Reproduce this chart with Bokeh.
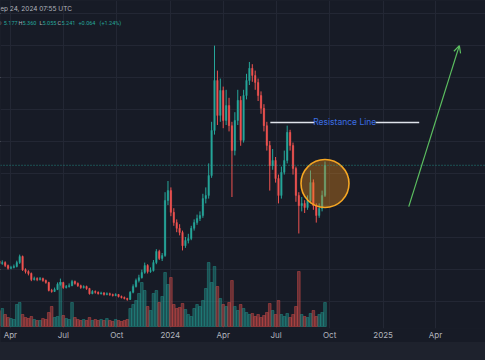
import pandas as pd
from bokeh.plotting import figure
from bokeh.models import (Range1d, FixedTicker, Span, Label, Arrow, OpenHead, Grid,
                          ColumnDataSource, GlobalInlineStyleSheet)
from bokeh.embed import file_html
from bokeh.resources import INLINE

# ---------------- data (5-day candles) ----------------
DATES = pd.date_range("2023-03-13", periods=113, freq="5D")

OPEN = [2.25, 2.17, 2.20, 2.11, 2.02, 2.05, 2.08, 2.20, 2.39, 1.98,
        1.92, 1.86, 1.67, 1.70, 1.67, 1.70, 1.64, 1.58, 1.33, 1.30,
        1.36, 1.52, 1.58, 1.42, 1.45, 1.48, 1.61, 1.55, 1.48, 1.42,
        1.45, 1.39, 1.23, 1.30, 1.27, 1.23, 1.25, 1.20, 1.23, 1.20,
        1.17, 1.20, 1.14, 1.11, 1.08, 1.05, 1.27, 1.45, 1.64, 1.73,
        1.89, 2.11, 1.92, 1.95, 2.20, 2.55, 2.33, 2.42, 4.14, 4.45,
        3.77, 3.45, 3.27, 3.14, 2.73, 2.89, 2.95, 3.27, 3.45, 3.58,
        3.67, 4.20, 4.30, 4.92, 6.33, 7.89, 6.80, 7.58, 6.64, 7.11,
        6.48, 5.70, 6.64, 7.27, 6.02, 7.42, 7.89, 8.27, 8.05, 7.83,
        7.42, 7.02, 6.48, 5.86, 5.23, 5.39, 4.83, 4.30, 5.02, 5.39,
        6.27, 5.86, 5.14, 4.30, 3.98, 4.05, 3.92, 4.14, 4.70, 3.98,
        3.67, 3.89, 4.30]

CLOSE = [2.17, 2.20, 2.11, 2.02, 2.05, 2.08, 2.20, 2.39, 1.98, 1.92,
         1.86, 1.67, 1.70, 1.67, 1.70, 1.64, 1.58, 1.33, 1.30, 1.36,
         1.52, 1.58, 1.42, 1.45, 1.48, 1.61, 1.55, 1.48, 1.42, 1.45,
         1.39, 1.23, 1.30, 1.27, 1.23, 1.25, 1.20, 1.23, 1.20, 1.17,
         1.20, 1.14, 1.11, 1.08, 1.05, 1.27, 1.45, 1.64, 1.73, 1.89,
         2.11, 1.92, 1.95, 2.20, 2.55, 2.33, 2.42, 4.14, 4.45, 3.77,
         3.45, 3.27, 3.14, 2.73, 2.89, 2.95, 3.27, 3.45, 3.58, 3.67,
         4.20, 4.30, 4.92, 6.33, 7.89, 6.80, 7.58, 6.64, 7.11, 6.48,
         5.70, 6.64, 7.27, 6.02, 7.42, 7.89, 8.27, 8.05, 7.83, 7.42,
         7.02, 6.48, 5.86, 5.23, 5.39, 4.83, 4.30, 5.02, 5.39, 6.27,
         5.86, 5.14, 4.30, 3.98, 4.05, 3.92, 4.14, 4.70, 3.98, 3.67,
         3.89, 4.30, 5.241]

HIGH = [2.30, 2.27, 2.24, 2.14, 2.10, 2.14, 2.26, 2.45, 2.42, 2.02,
        1.96, 1.89, 1.76, 1.74, 1.75, 1.73, 1.67, 1.60, 1.38, 1.42,
        1.58, 1.70, 1.60, 1.50, 1.55, 1.66, 1.64, 1.58, 1.51, 1.49,
        1.48, 1.41, 1.34, 1.33, 1.30, 1.29, 1.28, 1.27, 1.26, 1.23,
        1.24, 1.22, 1.17, 1.14, 1.10, 1.31, 1.52, 1.70, 1.82, 1.98,
        2.20, 2.15, 2.05, 2.28, 2.62, 2.60, 2.50, 4.40, 4.75, 4.55,
        3.90, 3.55, 3.40, 3.20, 3.00, 3.10, 3.35, 3.55, 3.70, 3.80,
        4.35, 4.55, 5.30, 6.60, 8.98, 8.20, 7.95, 7.70, 7.60, 7.35,
        6.60, 6.90, 7.60, 7.40, 7.60, 8.10, 8.47, 8.40, 8.20, 7.95,
        7.55, 7.15, 6.60, 6.00, 5.75, 5.50, 4.95, 5.20, 5.70, 6.48,
        6.35, 5.95, 5.20, 4.40, 4.25, 4.15, 4.30, 5.08, 4.80, 4.05,
        4.05, 4.45, 5.36]

LOW = [2.12, 2.13, 2.06, 1.98, 1.99, 2.02, 2.05, 2.16, 1.94, 1.86,
       1.80, 1.62, 1.64, 1.62, 1.64, 1.60, 1.54, 1.30, 1.26, 1.28,
       1.34, 1.48, 1.38, 1.39, 1.42, 1.46, 1.51, 1.44, 1.38, 1.39,
       1.35, 1.20, 1.21, 1.23, 1.20, 1.20, 1.17, 1.18, 1.16, 1.14,
       1.15, 1.11, 1.08, 1.05, 1.01, 1.03, 1.24, 1.42, 1.58, 1.70,
       1.85, 1.86, 1.88, 1.92, 2.15, 2.28, 2.25, 2.38, 4.00, 3.65,
       3.35, 3.15, 3.05, 2.58, 2.66, 2.80, 2.90, 3.20, 3.38, 3.50,
       3.60, 4.05, 4.20, 4.85, 6.20, 6.50, 6.60, 6.40, 6.50, 6.30,
       4.25, 5.55, 6.50, 5.85, 5.95, 7.30, 7.75, 7.85, 7.60, 7.25,
       6.85, 6.30, 5.70, 4.45, 5.10, 4.70, 4.05, 4.20, 4.95, 5.30,
       5.70, 4.95, 4.10, 3.11, 3.80, 3.75, 3.85, 4.05, 3.85, 3.45,
       3.60, 3.80, 4.25]

VOLUME_M = [16, 18, 12, 9, 8, 7, 22, 24, 12, 9,
            8, 10, 7, 6, 6, 8, 7, 14, 20, 9,
            10, 44, 11, 8, 7, 24, 9, 7, 6, 7,
            6, 9, 6, 7, 6, 7, 6, 8, 6, 5,
            7, 6, 5, 6, 7, 18, 22, 26, 33, 44,
            36, 20, 16, 33, 36, 24, 30, 54, 42, 49,
            22, 18, 19, 23, 17, 12, 10, 18, 22, 20,
            26, 38, 64, 44, 60, 40, 28, 22, 20, 24,
            46, 20, 16, 22, 18, 14, 12, 13, 10, 12,
            9, 11, 14, 23, 16, 12, 26, 12, 10, 13,
            9, 12, 20, 55, 12, 10, 9, 13, 16, 10,
            12, 14, 24]

TICK_DATES = ["2023-04-01", "2023-07-01", "2023-10-01", "2024-01-01", "2024-04-01",
              "2024-07-01", "2024-10-01", "2025-01-01", "2025-04-01"]
TICK_LABELS = ["Apr", "Jul", "Oct", "2024", "Apr", "Jul", "Oct", "2025", "Apr"]
PRICE_GRID = [1, 2, 3, 4, 5, 6, 7, 8, 9, 10]

LAST_PRICE = 5.241
RESISTANCE_PRICE = 6.58
RES_LEFT = ("2024-06-21", "2024-09-05")
RES_RIGHT = ("2024-12-19", "2025-03-04")
RES_LABEL_DATE = "2024-10-27"
CIRCLE_DATE = ["2024-09-23"]
CIRCLE_PRICE = [4.67]
ARROW_FROM = ("2025-02-14", 3.95)
ARROW_TO = ("2025-05-12", 8.98)

HEADER_DATE = "Sep 24, 2024 07:55 UTC"
HEADER_OHLC = [("O", "5.177"), ("H", "5.360"), ("L", "5.055"), ("C", "5.241")]
HEADER_CHANGE = ["+0.064", "(+1.24%)"]

# ---------------- styling ----------------
BG = "#171b26"
PAGE_BG = "#1e222d"
UP = "#26a69a"
DOWN = "#ef5350"
GRID = "#232734"
FONT = "Inter"
HFONT = "Roboto"


def ms(d):
    return pd.Timestamp(d).value / 1e6


up = [c >= o for o, c in zip(OPEN, CLOSE)]
src = ColumnDataSource(dict(
    date=DATES, open=OPEN, close=CLOSE, high=HIGH, low=LOW, vol=VOLUME_M,
    top=[max(o, c) for o, c in zip(OPEN, CLOSE)],
    bottom=[min(o, c) for o, c in zip(OPEN, CLOSE)],
    color=[UP if u else DOWN for u in up],
))

p = figure(frame_width=485, frame_height=328, x_axis_type="datetime", y_axis_location=None,
           x_range=Range1d(pd.Timestamp("2023-03-15"), pd.Timestamp("2025-06-26")),
           y_range=Range1d(0.140625, 10.390625),
           output_backend="svg", toolbar_location=None,
           min_border_left=0, min_border_right=0, min_border_top=0, min_border_bottom=12,
           background_fill_color=BG, border_fill_color=BG, outline_line_color=None)
p.extra_y_ranges = {"vol": Range1d(-2, 326)}

tick_ms = [int(ms(d)) for d in TICK_DATES]
ticker = FixedTicker(ticks=tick_ms)
ax = p.xaxis[0]
ax.ticker = ticker
ax.major_label_overrides = {t: l for t, l in zip(tick_ms, TICK_LABELS)}
ax.axis_line_color = None
ax.major_tick_line_color = None
ax.minor_tick_line_color = None
ax.major_tick_out = 0
ax.major_tick_in = 0
ax.major_label_standoff = 1
ax.major_label_text_font = FONT
ax.major_label_text_font_size = "8px"
ax.major_label_text_color = "#b2b5be"

p.xgrid.ticker = ticker
p.xgrid.grid_line_color = GRID
p.add_layout(Grid(dimension=1, ticker=FixedTicker(ticks=PRICE_GRID), grid_line_color=GRID))

# volume
p.vbar(x="date", top="vol", bottom=0, width=4.6 * 86400000, color="color", alpha=0.38,
       y_range_name="vol", source=src)
# candles
p.segment(x0="date", y0="low", x1="date", y1="high", color="color", line_width=1, source=src)
p.vbar(x="date", top="top", bottom="bottom", width=2.6 * 86400000, fill_color="color",
       line_color="color", line_width=0.4, source=src)

p.add_layout(Span(location=LAST_PRICE, dimension="width", line_color=UP,
                  line_dash="1 2", line_width=1, line_alpha=0.8))

# resistance line
p.segment(x0=[ms(RES_LEFT[0]), ms(RES_RIGHT[0])], y0=[RESISTANCE_PRICE] * 2,
          x1=[ms(RES_LEFT[1]), ms(RES_RIGHT[1])], y1=[RESISTANCE_PRICE] * 2,
          line_color="#e0e3eb", line_width=1.6)
p.add_layout(Label(x=ms(RES_LABEL_DATE), y=RESISTANCE_PRICE, text="Resistance Line",
                   text_align="center", text_baseline="middle", text_color="#3b6ee3",
                   text_font=FONT, text_font_size="8.5px"))

# circle highlight
p.scatter(x=[ms(d) for d in CIRCLE_DATE], y=CIRCLE_PRICE, size=48, marker="circle",
          fill_color="#f7931a", fill_alpha=0.35, line_color="#f5a623", line_width=1.6)

# arrow
GREEN = "#5cbf60"
p.add_layout(Arrow(end=OpenHead(size=7, line_color=GREEN, line_width=1.2),
                   x_start=ms(ARROW_FROM[0]), y_start=ARROW_FROM[1],
                   x_end=ms(ARROW_TO[0]), y_end=ARROW_TO[1],
                   line_color=GREEN, line_width=1.2))

# header
p.add_layout(Label(x=-4.5, y=10.14, x_units="screen", text=HEADER_DATE,
                   text_baseline="middle", text_color="#b2b5be",
                   text_font=FONT, text_font_size="6.5px"))
HY = 9.70
pos = [(-3.0, 3.3), (18.0, 22.0), (39.0, 42.0), (57.0, 61.0)]
for (k, v), (xk, xv) in zip(HEADER_OHLC, pos):
    p.add_layout(Label(x=xk, y=HY, x_units="screen", text=k, text_baseline="middle",
                       text_color="#b2b5be", text_font=HFONT, text_font_size="5.5px"))
    p.add_layout(Label(x=xv, y=HY, x_units="screen", text=v, text_baseline="middle",
                       text_color=UP, text_font=HFONT, text_font_size="5.5px"))
for t, xx in zip(HEADER_CHANGE, [78.0, 99.0]):
    p.add_layout(Label(x=xx, y=HY, x_units="screen", text=t, text_baseline="middle",
                       text_color=UP, text_font=HFONT, text_font_size="5.5px"))

p.stylesheets = [GlobalInlineStyleSheet(
    css=f"html, body {{ margin: 0; padding: 0; background: {PAGE_BG}; overflow: hidden; }}")]

open("out.html", "w").write(file_html(p, INLINE))
